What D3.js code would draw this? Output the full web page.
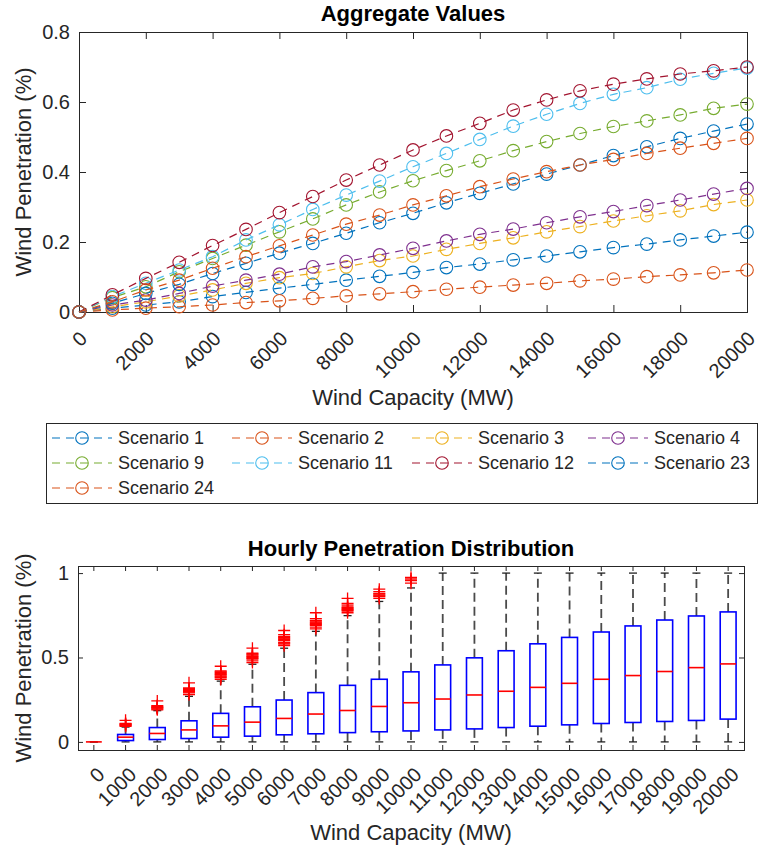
<!DOCTYPE html>
<html>
<head>
<meta charset="utf-8">
<script src="https://cdn.jsdelivr.net/npm/d3@7"></script>
<style>
  body { margin: 0; background: #fff; }
  svg { display: block; font-family: "Liberation Sans", Arial, Helvetica, sans-serif; }
</style>
</head>
<body>
<svg id="fig" width="759" height="852"></svg>
<script>
// ---- data ----------------------------------------------------------------
const capacity = [0, 1000, 2000, 3000, 4000, 5000, 6000, 7000, 8000, 9000, 10000,
  11000, 12000, 13000, 14000, 15000, 16000, 17000, 18000, 19000, 20000];

const scenarioNames = ["Scenario 1", "Scenario 2", "Scenario 3", "Scenario 4", "Scenario 9",
  "Scenario 11", "Scenario 12", "Scenario 23", "Scenario 24"];
const scenarioColors = ["#0072BD", "#D95319", "#EDB120", "#7E2F8E", "#77AC30",
  "#4DBEEE", "#A2142F", "#0072BD", "#D95319"];

const scenario1  = [0, 0.011, 0.020, 0.029, 0.044, 0.056, 0.068, 0.079, 0.091, 0.102, 0.113, 0.127, 0.137, 0.149, 0.160, 0.172, 0.184, 0.194, 0.206, 0.217, 0.228];
const scenario2  = [0, 0.006, 0.011, 0.015, 0.020, 0.027, 0.032, 0.039, 0.046, 0.052, 0.058, 0.065, 0.071, 0.077, 0.082, 0.089, 0.094, 0.101, 0.106, 0.112, 0.120];
const scenario3  = [0, 0.015, 0.029, 0.046, 0.063, 0.082, 0.098, 0.110, 0.129, 0.147, 0.160, 0.179, 0.196, 0.212, 0.229, 0.244, 0.260, 0.275, 0.289, 0.307, 0.320];
const scenario4  = [0, 0.020, 0.034, 0.053, 0.074, 0.091, 0.108, 0.129, 0.144, 0.163, 0.182, 0.203, 0.222, 0.237, 0.255, 0.272, 0.287, 0.304, 0.320, 0.337, 0.353];
const scenario9  = [0, 0.041, 0.072, 0.115, 0.153, 0.191, 0.229, 0.266, 0.306, 0.343, 0.375, 0.404, 0.432, 0.461, 0.487, 0.510, 0.530, 0.546, 0.563, 0.582, 0.594];
const scenario11 = [0, 0.044, 0.082, 0.120, 0.158, 0.206, 0.249, 0.293, 0.334, 0.374, 0.415, 0.453, 0.493, 0.531, 0.565, 0.596, 0.622, 0.641, 0.665, 0.682, 0.697];
const scenario12 = [0, 0.049, 0.096, 0.142, 0.190, 0.236, 0.284, 0.330, 0.377, 0.420, 0.463, 0.503, 0.539, 0.577, 0.606, 0.632, 0.651, 0.666, 0.680, 0.689, 0.700];
const scenario23 = [0, 0.025, 0.053, 0.079, 0.110, 0.139, 0.168, 0.196, 0.225, 0.255, 0.282, 0.312, 0.339, 0.366, 0.394, 0.420, 0.447, 0.472, 0.496, 0.517, 0.537];
const scenario24 = [0, 0.029, 0.063, 0.091, 0.125, 0.158, 0.189, 0.220, 0.251, 0.277, 0.306, 0.332, 0.358, 0.380, 0.401, 0.420, 0.436, 0.453, 0.468, 0.482, 0.496];

const aggXTicks = [0, 2000, 4000, 6000, 8000, 10000, 12000, 14000, 16000, 18000, 20000];
const aggYTicks = [0, 0.2, 0.4, 0.6, 0.8];
const aggYLabels = ["0", "0.2", "0.4", "0.6", "0.8"];

// hourly distribution per capacity: quartiles, whisker ends, outliers
const boxMedian = [0, 0.028, 0.050, 0.071, 0.095, 0.117, 0.139, 0.165, 0.186, 0.210, 0.232, 0.254, 0.278, 0.300, 0.323, 0.347, 0.371, 0.393, 0.417, 0.440, 0.462];
const boxQ1     = [0, 0.008, 0.014, 0.020, 0.028, 0.034, 0.042, 0.048, 0.055, 0.060, 0.065, 0.071, 0.077, 0.085, 0.093, 0.101, 0.109, 0.115, 0.121, 0.127, 0.135];
const boxQ3     = [0, 0.044, 0.085, 0.125, 0.169, 0.208, 0.248, 0.292, 0.335, 0.371, 0.415, 0.456, 0.498, 0.540, 0.581, 0.619, 0.651, 0.687, 0.722, 0.746, 0.770];
const whiskerLo = [0, 0, 0, 0, 0, 0, 0, 0, 0, 0, 0, 0, 0, 0, 0, 0, 0, 0, 0, 0, 0];
const whiskerHi = [0, 0.088, 0.185, 0.270, 0.360, 0.460, 0.555, 0.655, 0.748, 0.832, 0.912, 1.0, 1.0, 1.0, 1.0, 1.0, 1.0, 1.0, 1.0, 1.0, 1.0];
const outliers = [
  [],
  [0.092, 0.096, 0.100, 0.103, 0.106, 0.110, 0.128],
  [0.190, 0.195, 0.200, 0.203, 0.206, 0.210, 0.215, 0.243],
  [0.280, 0.290, 0.295, 0.300, 0.305, 0.310, 0.315, 0.320, 0.350],
  [0.370, 0.380, 0.385, 0.390, 0.395, 0.400, 0.405, 0.410, 0.415, 0.420, 0.448],
  [0.470, 0.480, 0.490, 0.495, 0.500, 0.505, 0.510, 0.515, 0.520, 0.525, 0.555],
  [0.570, 0.580, 0.585, 0.590, 0.600, 0.605, 0.610, 0.615, 0.620, 0.625, 0.635, 0.660],
  [0.670, 0.680, 0.690, 0.695, 0.700, 0.705, 0.710, 0.715, 0.720, 0.730, 0.765],
  [0.765, 0.775, 0.780, 0.785, 0.790, 0.795, 0.800, 0.810, 0.820, 0.850],
  [0.850, 0.860, 0.865, 0.870, 0.875, 0.880, 0.890, 0.905],
  [0.940, 0.955, 0.965, 0.975],
  [], [], [], [], [], [], [], [], [], []
];
const distYTicks = [0, 0.5, 1];
const distYLabels = ["0", "0.5", "1"];

// ---- drawing -------------------------------------------------------------
const svg = d3.select("#fig");
const ink = "#262626";
const tickFont = 20, labelFont = 22, titleFont = 22, legendFont = 18;

function styleAxis(g) {
  g.attr("font-size", tickFont).attr("font-family", null).attr("color", ink);
  g.select(".domain").remove();
}

function frame(x0, y0, x1, y1) {
  svg.append("rect")
    .attr("x", x0 + 0.5).attr("y", y0 + 0.5)
    .attr("width", x1 - x0).attr("height", y1 - y0)
    .attr("fill", "none").attr("stroke", ink).attr("stroke-width", 1);
}

// ===== Aggregate Values =====
const A = { left: 79, right: 747, top: 32, bottom: 312 };
const ax = d3.scaleLinear().domain([0, 20000]).range([A.left, A.right]);
const ay = d3.scaleLinear().domain([0, 0.8]).range([A.bottom, A.top]);

svg.append("g").attr("transform", `translate(0,${A.bottom})`)
  .call(d3.axisBottom(ax).tickValues(aggXTicks).tickSize(-7).tickSizeOuter(0).tickFormat(d => String(d)))
  .call(styleAxis)
  .call(g => g.selectAll("text")
    .attr("x", 0).attr("y", 0).attr("dy", "0.35em")
    .attr("text-anchor", "end")
    .attr("transform", "translate(4,23) rotate(-45)"));
svg.append("g").attr("transform", `translate(0,${A.top})`)
  .call(d3.axisTop(ax).tickValues(aggXTicks).tickSize(-7).tickSizeOuter(0).tickFormat(""))
  .call(styleAxis);
svg.append("g").attr("transform", `translate(${A.left},0)`)
  .call(d3.axisLeft(ay).tickValues(aggYTicks).tickSize(-7).tickSizeOuter(0).tickPadding(9)
    .tickFormat((d, i) => aggYLabels[i]))
  .call(styleAxis);
svg.append("g").attr("transform", `translate(${A.right},0)`)
  .call(d3.axisRight(ay).tickValues(aggYTicks).tickSize(-7).tickSizeOuter(0).tickFormat(""))
  .call(styleAxis);
frame(A.left, A.top, A.right, A.bottom);

const allSeries = [scenario1, scenario2, scenario3, scenario4, scenario9,
  scenario11, scenario12, scenario23, scenario24];
const line = d3.line().x((d, i) => ax(capacity[i])).y(d => ay(d));

allSeries.forEach((vals, k) => {
  const g = svg.append("g").attr("class", "series");
  g.append("path").datum(vals)
    .attr("d", line).attr("fill", "none")
    .attr("stroke", scenarioColors[k]).attr("stroke-width", 1.2)
    .attr("stroke-dasharray", "8,6");
  g.selectAll("circle").data(vals).join("circle")
    .attr("cx", (d, i) => ax(capacity[i])).attr("cy", d => ay(d)).attr("r", 6.3)
    .attr("fill", "none").attr("stroke", scenarioColors[k]).attr("stroke-width", 1.1);
});

svg.append("text").attr("x", (A.left + A.right) / 2).attr("y", 21)
  .attr("text-anchor", "middle").attr("font-size", titleFont).attr("font-weight", "bold")
  .attr("fill", "#000").text("Aggregate Values");
svg.append("text").attr("x", (A.left + A.right) / 2).attr("y", 405)
  .attr("text-anchor", "middle").attr("font-size", labelFont).attr("fill", ink)
  .text("Wind Capacity (MW)");
svg.append("text").attr("transform", `translate(31,${(A.top + A.bottom) / 2}) rotate(-90)`)
  .attr("text-anchor", "middle").attr("font-size", labelFont).attr("fill", ink)
  .text("Wind Penetration (%)");

// ===== Legend =====
const L = { left: 46, top: 423, right: 757, bottom: 503 };
svg.append("rect").attr("x", L.left + 0.5).attr("y", L.top + 0.5)
  .attr("width", L.right - L.left).attr("height", L.bottom - L.top)
  .attr("fill", "#fff").attr("stroke", ink).attr("stroke-width", 1);
const legCols = [52, 232, 412, 588];
const legRows = [438, 463, 488];
scenarioNames.forEach((name, k) => {
  const sx = legCols[k % 4], sy = legRows[Math.floor(k / 4)];
  const g = svg.append("g");
  g.append("line").attr("x1", sx).attr("x2", sx + 60).attr("y1", sy).attr("y2", sy)
    .attr("stroke", scenarioColors[k]).attr("stroke-width", 1.2)
    .attr("stroke-dasharray", "8,6");
  g.append("circle").attr("cx", sx + 30).attr("cy", sy).attr("r", 6.3)
    .attr("fill", "none").attr("stroke", scenarioColors[k]).attr("stroke-width", 1.1);
  g.append("text").attr("x", sx + 66).attr("y", sy).attr("dy", "0.35em")
    .attr("font-size", legendFont).attr("fill", ink).text(name);
});

// ===== Hourly Penetration Distribution =====
const B = { left: 78, right: 744, top: 566, bottom: 750 };
const cats = capacity.map(String);
const bx = d3.scaleBand().domain(cats).range([B.left, B.right]).paddingInner(0).paddingOuter(0);
const by = d3.scaleLinear().domain([-0.048, 1.042]).range([B.bottom, B.top]);
const cx = c => bx(c) + bx.bandwidth() / 2;
const boxW = bx.bandwidth() * 0.5;

svg.append("g").attr("transform", `translate(0,${B.bottom})`)
  .call(d3.axisBottom(bx).tickSize(-5).tickSizeOuter(0))
  .call(styleAxis)
  .call(g => g.selectAll("text")
    .attr("x", 0).attr("y", 0).attr("dy", "0.35em")
    .attr("text-anchor", "end")
    .attr("transform", "translate(7,21) rotate(-45)"));
svg.append("g").attr("transform", `translate(0,${B.top})`)
  .call(d3.axisTop(bx).tickSize(-5).tickSizeOuter(0).tickFormat(""))
  .call(styleAxis);
svg.append("g").attr("transform", `translate(${B.left},0)`)
  .call(d3.axisLeft(by).tickValues(distYTicks).tickSize(-5).tickSizeOuter(0).tickPadding(9)
    .tickFormat((d, i) => distYLabels[i]))
  .call(styleAxis);
svg.append("g").attr("transform", `translate(${B.right},0)`)
  .call(d3.axisRight(by).tickValues(distYTicks).tickSize(-5).tickSizeOuter(0).tickFormat(""))
  .call(styleAxis);
frame(B.left, B.top, B.right, B.bottom);

const boxes = svg.append("g");
cats.forEach((c, i) => {
  const x = cx(c);
  const g = boxes.append("g");
  // whiskers
  g.append("line").attr("x1", x).attr("x2", x)
    .attr("y1", by(boxQ3[i])).attr("y2", by(whiskerHi[i]))
    .attr("stroke", "#4a4a4a").attr("stroke-width", 1.8).attr("stroke-dasharray", "9,5");
  g.append("line").attr("x1", x).attr("x2", x)
    .attr("y1", by(boxQ1[i])).attr("y2", by(whiskerLo[i]))
    .attr("stroke", "#4a4a4a").attr("stroke-width", 1.8).attr("stroke-dasharray", "9,5");
  // whisker caps
  [whiskerHi[i], whiskerLo[i]].forEach(v => {
    g.append("line").attr("x1", x - 4).attr("x2", x + 4)
      .attr("y1", by(v)).attr("y2", by(v))
      .attr("stroke", "#222").attr("stroke-width", 1.3);
  });
  // box
  g.append("rect").attr("x", x - boxW / 2).attr("width", boxW)
    .attr("y", by(boxQ3[i])).attr("height", by(boxQ1[i]) - by(boxQ3[i]))
    .attr("fill", "none").attr("stroke", "#0000FF").attr("stroke-width", 1.6);
  // median
  g.append("line").attr("x1", x - boxW / 2).attr("x2", x + boxW / 2)
    .attr("y1", by(boxMedian[i])).attr("y2", by(boxMedian[i]))
    .attr("stroke", "#FF0000").attr("stroke-width", 1.6);
  // outliers
  outliers[i].forEach(v => {
    g.append("path").attr("d", `M${x - 6},${by(v)}H${x + 6}M${x},${by(v) - 6}V${by(v) + 6}`)
      .attr("stroke", "#FF0000").attr("stroke-width", 1.3).attr("fill", "none");
  });
});

svg.append("text").attr("x", (B.left + B.right) / 2).attr("y", 556)
  .attr("text-anchor", "middle").attr("font-size", titleFont).attr("font-weight", "bold")
  .attr("fill", "#000").text("Hourly Penetration Distribution");
svg.append("text").attr("x", (B.left + B.right) / 2).attr("y", 840)
  .attr("text-anchor", "middle").attr("font-size", labelFont).attr("fill", ink)
  .text("Wind Capacity (MW)");
svg.append("text").attr("transform", `translate(31,${(B.top + B.bottom) / 2}) rotate(-90)`)
  .attr("text-anchor", "middle").attr("font-size", labelFont).attr("fill", ink)
  .text("Wind Penetration (%)");
</script>
</body>
</html>
